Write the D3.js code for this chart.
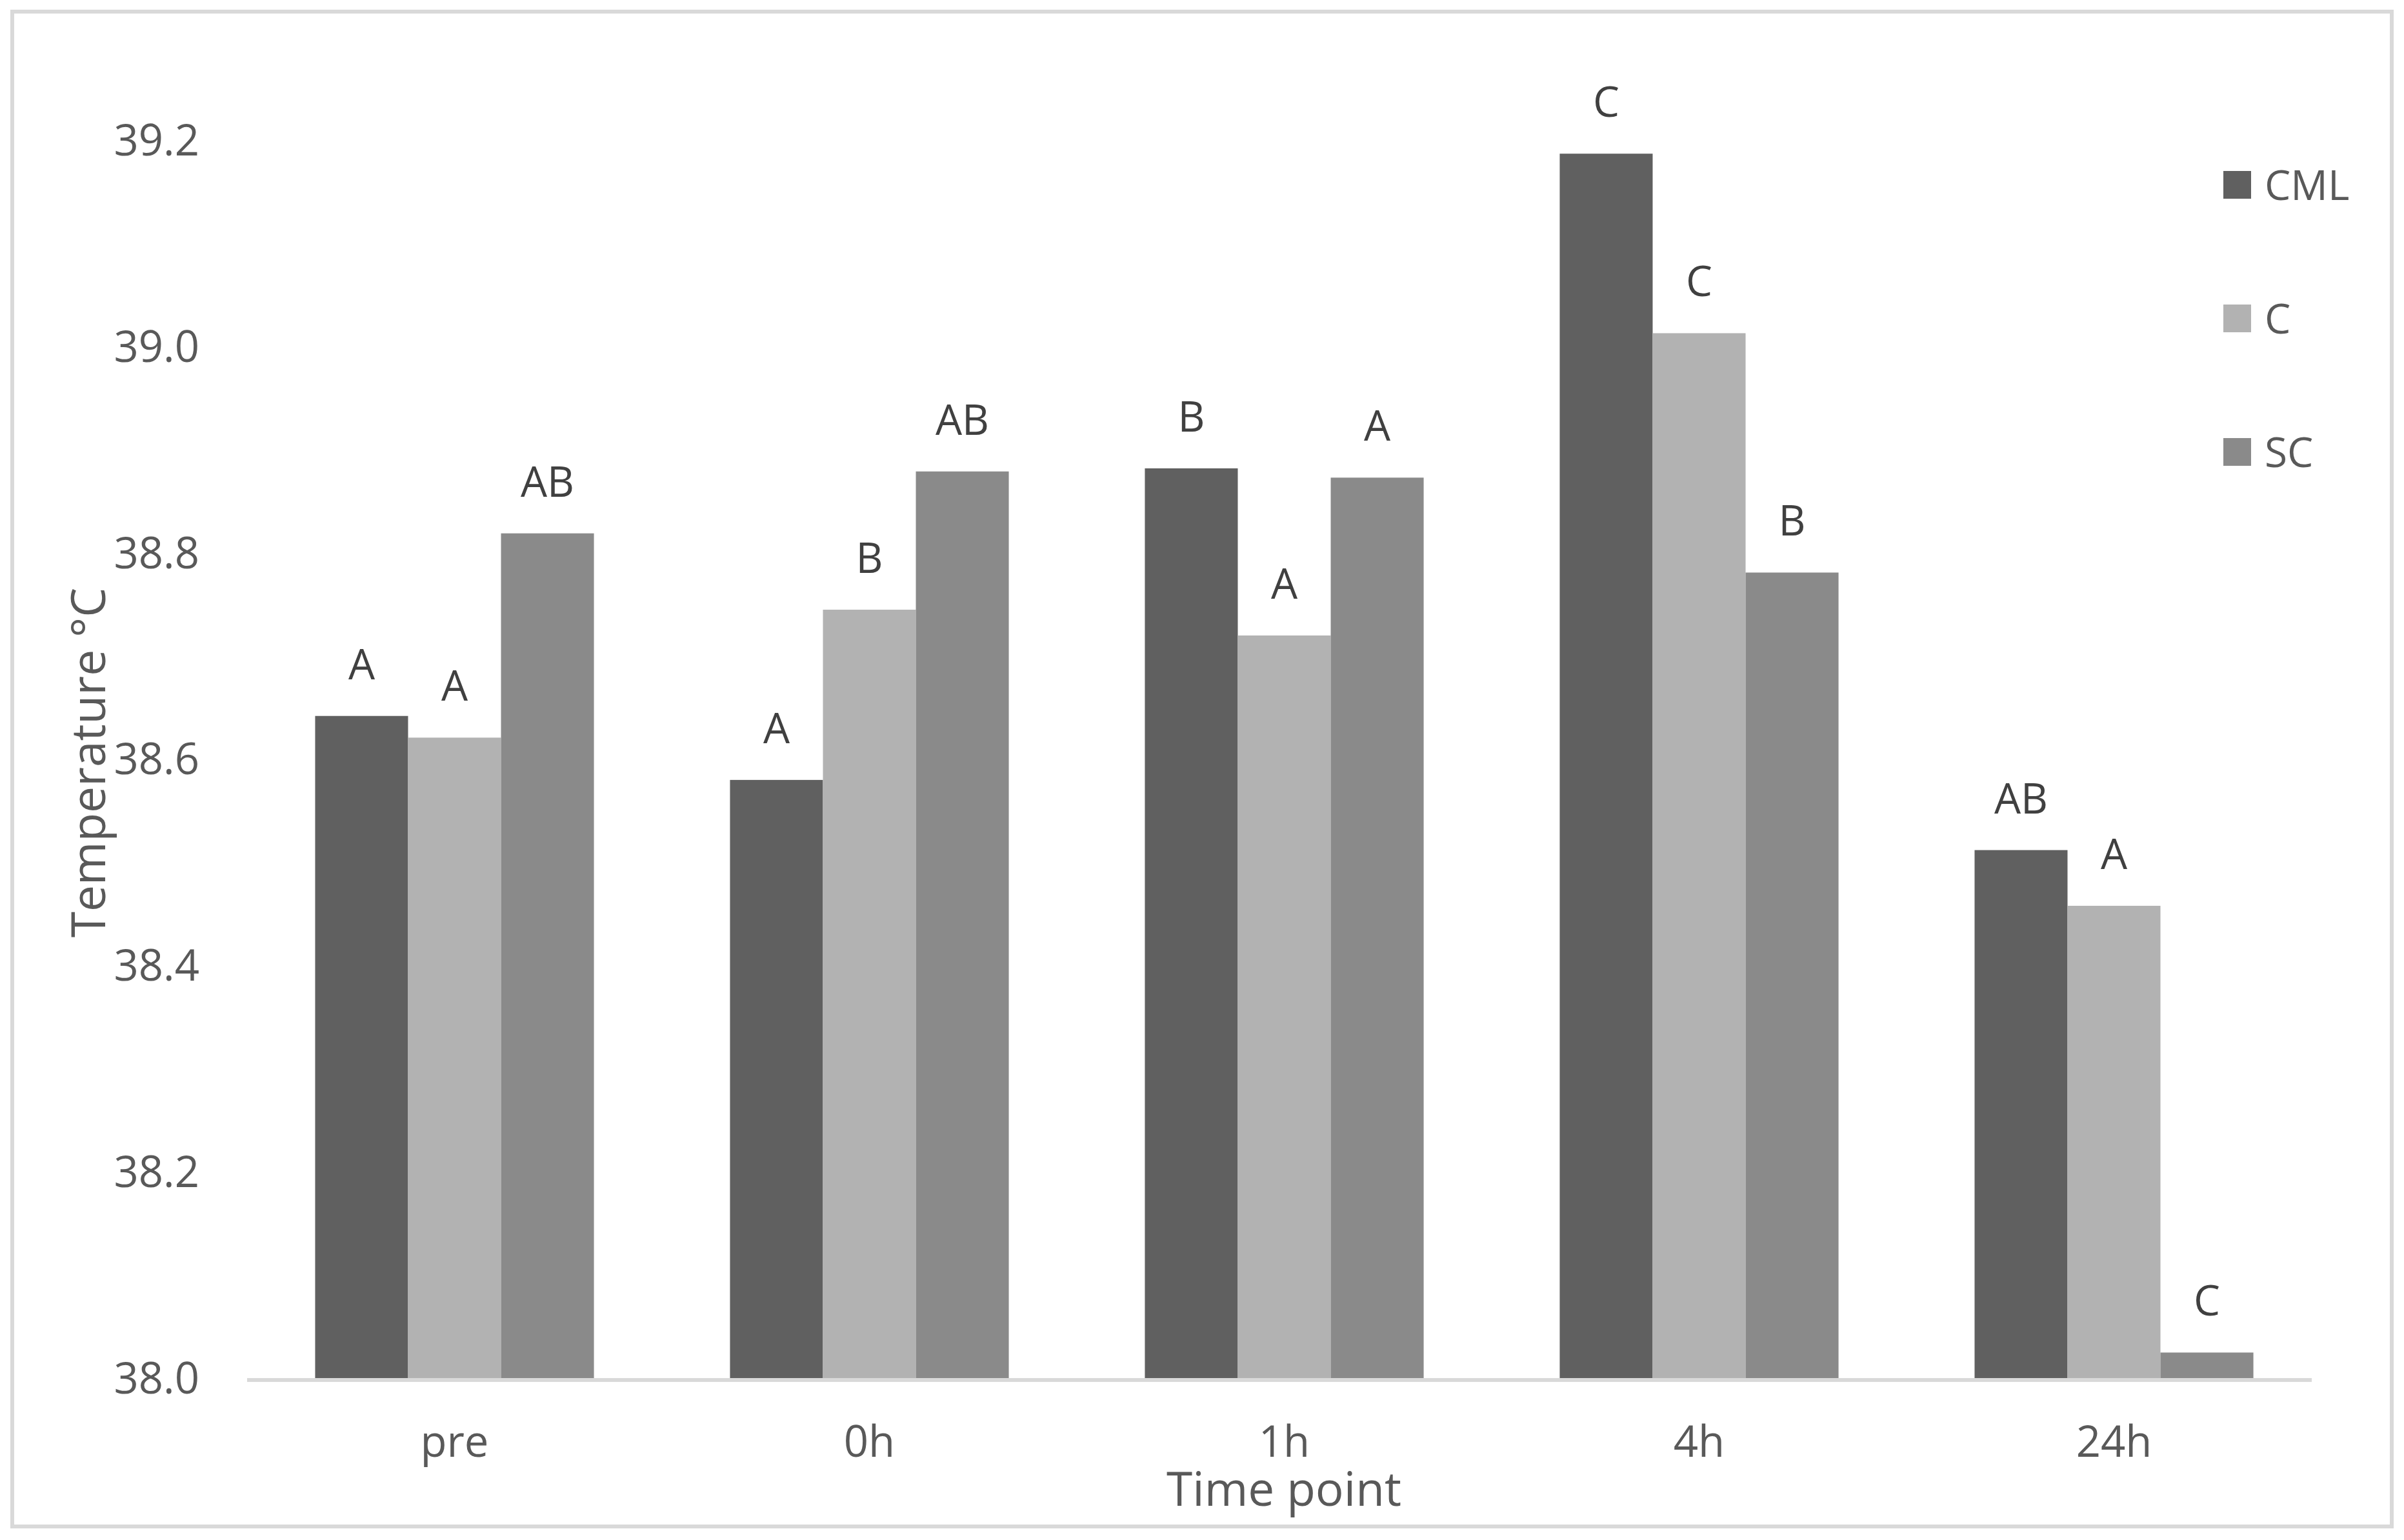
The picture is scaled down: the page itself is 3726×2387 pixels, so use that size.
<!DOCTYPE html>
<html lang="en">
<head>
    <meta charset="UTF-8">
    <title>Temperature by time point</title>
    <style>
        body, html {
            margin: 0;
            padding: 0;
            width: 100%;
            height: 100%;
            overflow: hidden;
            background: #fff;
        }
        text {
            font-family: "Open Sans", "Noto Sans", sans-serif;
        }
    </style>
    <script src="https://d3js.org/d3.v7.min.js"></script>
</head>
<body>
    <div id="chart"></div>

    <script>
        // data
        const timePoints = ["pre", "0h", "1h", "4h", "24h"];
        const groups = ["CML", "C", "SC"];
        const cmlValues = [38.643, 38.581, 38.883, 39.188, 38.513];
        const cValues   = [38.622, 38.746, 38.721, 39.014, 38.459];
        const scValues  = [38.820, 38.880, 38.874, 38.782, 38.026];
        const cmlLetters = ["A", "A", "B", "C", "AB"];
        const cLetters   = ["A", "B", "A", "C", "A"];
        const scLetters  = ["AB", "AB", "A", "B", "C"];
        const yTicks = [38.0, 38.2, 38.4, 38.6, 38.8, 39.0, 39.2];

        const colors = { CML: "#606060", C: "#b2b2b2", SC: "#8a8a8a" };
        const valuesBy = { CML: cmlValues, C: cValues, SC: scValues };
        const lettersBy = { CML: cmlLetters, C: cLetters, SC: scLetters };

        const width = 3726;
        const height = 2387;
        const plot = { left: 383, right: 3598, top: 219, bottom: 2138 };

        const svg = d3.select("#chart")
            .append("svg")
            .attr("width", width)
            .attr("height", height);

        // outer chart border
        svg.append("rect")
            .attr("x", 19).attr("y", 18)
            .attr("width", 3688).attr("height", 2348)
            .attr("fill", "none")
            .attr("stroke", "#d9d9d9")
            .attr("stroke-width", 6);

        const x0 = d3.scaleBand()
            .domain(timePoints)
            .range([plot.left, plot.right]);

        const x1 = d3.scaleBand()
            .domain(groups)
            .range([0, x0.bandwidth()])
            .paddingInner(0)
            .paddingOuter(0.732);

        const y = d3.scaleLinear()
            .domain([38.0, 39.2])
            .range([plot.bottom, plot.top]);

        const rows = timePoints.map((t, i) => ({
            time: t,
            bars: groups.map(g => ({ group: g, value: valuesBy[g][i], letter: lettersBy[g][i] }))
        }));

        const g = svg.append("g");

        const groupSel = g.selectAll(".tp")
            .data(rows)
            .enter().append("g")
            .attr("class", "tp")
            .attr("transform", d => `translate(${x0(d.time)},0)`);

        groupSel.selectAll("rect")
            .data(d => d.bars)
            .enter().append("rect")
            .attr("x", d => x1(d.group))
            .attr("y", d => y(d.value))
            .attr("width", x1.bandwidth())
            .attr("height", d => y(38.0) - y(d.value))
            .attr("fill", d => colors[d.group]);

        // significance letters
        groupSel.selectAll(".lbl")
            .data(d => d.bars)
            .enter().append("text")
            .attr("class", "lbl")
            .attr("x", d => x1(d.group) + x1.bandwidth() / 2)
            .attr("y", d => y(d.value) - 57)
            .attr("text-anchor", "middle")
            .attr("font-size", 65)
            .attr("fill", "#404040")
            .text(d => d.letter);

        // x axis
        const xAxis = svg.append("g")
            .attr("transform", `translate(0,${plot.bottom})`)
            .call(d3.axisBottom(x0).tickSize(0).tickPadding(72));
        xAxis.select(".domain").remove();
        xAxis.selectAll("text")
            .attr("font-size", 67)
            .attr("fill", "#595959");
        svg.append("line")
            .attr("x1", plot.left).attr("x2", 3583)
            .attr("y1", plot.bottom + 1).attr("y2", plot.bottom + 1)
            .attr("stroke", "#d9d9d9")
            .attr("stroke-width", 6);

        // y axis
        const yAxis = svg.append("g")
            .attr("transform", `translate(${plot.left},0)`)
            .call(d3.axisLeft(y).tickValues(yTicks).tickFormat(d3.format(".1f")).tickSize(0).tickPadding(74));
        yAxis.select(".domain").remove();
        yAxis.selectAll("text")
            .attr("font-size", 67)
            .attr("fill", "#595959");

        // axis titles
        svg.append("text")
            .attr("x", 1990)
            .attr("y", 2334)
            .attr("text-anchor", "middle")
            .attr("font-size", 73)
            .attr("fill", "#595959")
            .text("Time point");

        svg.append("text")
            .attr("transform", "translate(163,1182) rotate(-90)")
            .attr("text-anchor", "middle")
            .attr("font-size", 73)
            .attr("fill", "#595959")
            .text("Temperature °C");

        // legend
        const legend = svg.append("g")
            .attr("transform", "translate(3446,265)");
        const item = legend.selectAll(".item")
            .data(groups)
            .enter().append("g")
            .attr("class", "item")
            .attr("transform", (d, i) => `translate(0,${i * 207})`);
        item.append("rect")
            .attr("width", 43).attr("height", 43)
            .attr("fill", d => colors[d]);
        item.append("text")
            .attr("x", 64)
            .attr("y", 22)
            .attr("dy", "0.36em")
            .attr("font-size", 64)
            .attr("fill", "#595959")
            .text(d => d);
    </script>
</body>
</html>
